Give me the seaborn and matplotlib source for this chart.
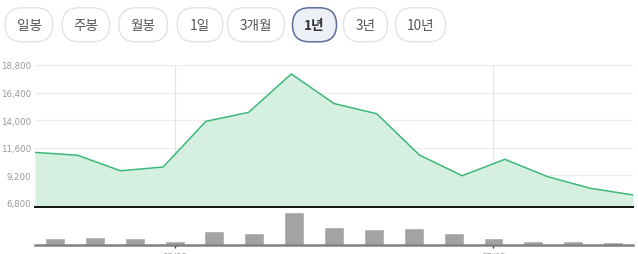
import matplotlib
matplotlib.use('Agg')
import matplotlib.pyplot as plt
import seaborn as sns
import numpy as np
import pandas as pd
from matplotlib.patches import FancyBboxPatch

# ---- data ----
price = [11200, 10950, 9600, 9930, 13900, 14680, 18020, 15450, 14560,
         10970, 9170, 10600, 9090, 8080, 7500]
volume = [670, 800, 700, 370, 1370, 1130, 3270, 1770, 1530, 1670,
          1130, 630, 370, 370, 230]
yticks = [6800, 9200, 11600, 14000, 16400, 18800]
xtick_idx = [3, 11]
xtick_labels = ['05/08', '07/03']
buttons = ['일봉', '주봉', '월봉', '1일', '3개월', '1년', '3년', '10년']
selected = '1년'

# ---- layout ----
btn_x = [(4.7, 53.3), (61.7, 110), (118.3, 168), (176.7, 223.3),
         (227, 285), (292, 337), (343, 388), (395, 446)]
W, H = 638, 255

sns.set_theme(style='white')
plt.rcParams['font.family'] = ['DejaVu Sans']

fig = plt.figure(figsize=(W / 100, H / 100), dpi=100)
fig.patch.set_facecolor('white')

df = pd.DataFrame({'i': np.arange(len(price)), 'price': price, 'volume': volume})

# main price chart
ax = fig.add_axes([35 / W, (H - 208) / H, 598 / W, 142 / H])
ax.set_facecolor('white')
n = len(price)
for yv in yticks:
    ax.axhline(yv, color='#ececec', lw=0.8, zorder=0)
for i in xtick_idx:
    xv = (i + 0.5) * (n - 1) / n
    ax.plot([xv, xv], [yticks[0], yticks[-1]], color='#e6e6e6', lw=0.8, zorder=0)
ax.fill_between(df['i'], df['price'], 6000, color='#d5f0e1', lw=0, zorder=1)
sns.lineplot(data=df, x='i', y='price', ax=ax, color='#3cb878', lw=1.1, zorder=2)
ax.set_xlim(0, n - 1)
ax.set_ylim(6452, 18800)
ax.set_yticks(yticks)
ax.set_yticklabels([f'{v:,}' for v in yticks])
ax.set_xticks([])
ax.set_xlabel('')
ax.set_ylabel('')
ax.tick_params(axis='y', length=0, pad=3, labelsize=6.2, labelcolor='#999999')
for s in ['top', 'right', 'left']:
    ax.spines[s].set_visible(False)
ax.spines['bottom'].set_color('#111111')
ax.spines['bottom'].set_linewidth(1.4)

# volume chart
axv = fig.add_axes([35 / W, (H - 245.7) / H, 598 / W, 37.7 / H])
axv.set_facecolor('none')
sns.barplot(data=df, x='i', y='volume', ax=axv, color='#a3a3a3',
            saturation=1, width=0.5, zorder=2)
axv.set_xlim(-0.5, n - 0.5)
axv.set_ylim(0, 3770)
axv.set_yticks([])
axv.set_xticks(xtick_idx)
axv.set_xticklabels(xtick_labels)
axv.set_xlabel('')
axv.set_ylabel('')
axv.tick_params(axis='x', length=2.2, width=1, color='#333333', pad=2.6,
                labelsize=6.2, labelcolor='#999999', bottom=True)
for s in ['top', 'right', 'left']:
    axv.spines[s].set_visible(False)
axv.spines['bottom'].set_color('#808080')
axv.spines['bottom'].set_linewidth(1.8)

# buttons overlay
axb = fig.add_axes([0, 0, 1, 1])
axb.set_xlim(0, W)
axb.set_ylim(H, 0)
axb.axis('off')
axb.patch.set_alpha(0)
y0, y1 = 8.3, 43.3
for lab, (x0, x1) in zip(buttons, btn_x):
    sel = lab == selected
    p = FancyBboxPatch((x0 + 0.5, y0 + 0.5), x1 - x0 - 1, y1 - y0 - 1,
                       boxstyle=f'round,pad=0,rounding_size={(y1 - y0 - 1) / 2}',
                       facecolor='#eef0f7' if sel else 'white',
                       edgecolor='#5d6d9c' if sel else '#e1e1e1',
                       lw=1.1 if sel else 0.9)
    axb.add_patch(p)
    axb.text((x0 + x1) / 2, (y0 + y1) / 2 + 0.5, lab, ha='center', va='center',
             fontsize=9.8, color='#333333' if sel else '#555555',
             fontweight='bold' if sel else 'normal',
             family=['Noto Sans CJK KR', 'DejaVu Sans'])

fig.savefig('out.png', dpi=100)
